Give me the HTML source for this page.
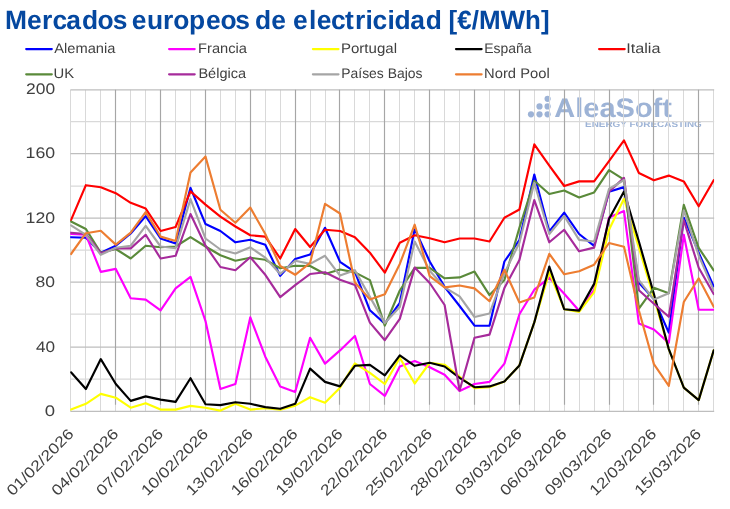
<!DOCTYPE html>
<html><head><meta charset="utf-8"><title>Mercados europeos de electricidad</title>
<style>
html,body{margin:0;padding:0;background:#fff;}
body{width:730px;height:509px;overflow:hidden;position:relative;font-family:"Liberation Sans",sans-serif;}
svg{position:absolute;left:0;top:0;display:block;}
text{font-family:"Liberation Sans",sans-serif;text-rendering:geometricPrecision;}
</style></head><body>
<svg width="730" height="509" viewBox="0 0 730 509">
<rect width="730" height="509" fill="#ffffff"/>
<text y="28.9" font-size="26.4" font-weight="bold" fill="#0548a0" x="5.0 26.9 42.0 52.5 66.3 82.1 97.6 112.7 127.9 131.8 147.0 163.0 173.3 189.0 206.0 220.6 235.2 250.2 255.0 271.2 287.0 293.0 309.0 316.8 331.1 345.0 355.0 365.4 372.4 387.4 394.5 410.3 425.8">Mercados europeos de electricidad</text>
<text x="448.62" y="28.90" font-size="26.4" font-weight="bold" fill="#0548a0" textLength="100.94" lengthAdjust="spacingAndGlyphs">[€/MWh]</text>
<g fill="#9db3d6"><circle cx="531.0" cy="114.3" r="3.1"/><circle cx="539.5" cy="114.3" r="3.1"/><circle cx="547.6" cy="114.3" r="3.1"/><circle cx="539.5" cy="106.4" r="3.1"/><circle cx="547.6" cy="106.4" r="3.1"/><circle cx="547.6" cy="98.8" r="3.1"/><text x="554.25" y="117.40" font-size="27" font-weight="bold" fill="#9db3d6" textLength="117.69" lengthAdjust="spacingAndGlyphs">AleaSoft</text>
<text x="585.06" y="127.40" font-size="8.5" font-weight="bold" fill="#9db3d6" textLength="116.75" lengthAdjust="spacingAndGlyphs">ENERGY FORECASTING</text>
</g>
<g><line x1="70.50" y1="89.75" x2="70.50" y2="411.40" stroke="#d9d9d9" stroke-width="1"/><line x1="85.50" y1="89.75" x2="85.50" y2="411.40" stroke="#d9d9d9" stroke-width="1"/><line x1="100.50" y1="89.75" x2="100.50" y2="411.40" stroke="#d9d9d9" stroke-width="1"/><line x1="115.50" y1="89.75" x2="115.50" y2="411.40" stroke="#d9d9d9" stroke-width="1"/><line x1="130.50" y1="89.75" x2="130.50" y2="411.40" stroke="#d9d9d9" stroke-width="1"/><line x1="145.50" y1="89.75" x2="145.50" y2="411.40" stroke="#d9d9d9" stroke-width="1"/><line x1="160.50" y1="89.75" x2="160.50" y2="411.40" stroke="#d9d9d9" stroke-width="1"/><line x1="175.50" y1="89.75" x2="175.50" y2="411.40" stroke="#d9d9d9" stroke-width="1"/><line x1="190.50" y1="89.75" x2="190.50" y2="411.40" stroke="#d9d9d9" stroke-width="1"/><line x1="205.50" y1="89.75" x2="205.50" y2="411.40" stroke="#d9d9d9" stroke-width="1"/><line x1="220.50" y1="89.75" x2="220.50" y2="411.40" stroke="#d9d9d9" stroke-width="1"/><line x1="235.50" y1="89.75" x2="235.50" y2="411.40" stroke="#d9d9d9" stroke-width="1"/><line x1="250.50" y1="89.75" x2="250.50" y2="411.40" stroke="#d9d9d9" stroke-width="1"/><line x1="265.50" y1="89.75" x2="265.50" y2="411.40" stroke="#d9d9d9" stroke-width="1"/><line x1="280.50" y1="89.75" x2="280.50" y2="411.40" stroke="#d9d9d9" stroke-width="1"/><line x1="295.50" y1="89.75" x2="295.50" y2="411.40" stroke="#d9d9d9" stroke-width="1"/><line x1="310.50" y1="89.75" x2="310.50" y2="411.40" stroke="#d9d9d9" stroke-width="1"/><line x1="325.50" y1="89.75" x2="325.50" y2="411.40" stroke="#d9d9d9" stroke-width="1"/><line x1="339.50" y1="89.75" x2="339.50" y2="411.40" stroke="#d9d9d9" stroke-width="1"/><line x1="354.50" y1="89.75" x2="354.50" y2="411.40" stroke="#d9d9d9" stroke-width="1"/><line x1="369.50" y1="89.75" x2="369.50" y2="411.40" stroke="#d9d9d9" stroke-width="1"/><line x1="384.50" y1="89.75" x2="384.50" y2="411.40" stroke="#d9d9d9" stroke-width="1"/><line x1="399.50" y1="89.75" x2="399.50" y2="411.40" stroke="#d9d9d9" stroke-width="1"/><line x1="414.50" y1="89.75" x2="414.50" y2="411.40" stroke="#d9d9d9" stroke-width="1"/><line x1="429.50" y1="89.75" x2="429.50" y2="411.40" stroke="#d9d9d9" stroke-width="1"/><line x1="444.50" y1="89.75" x2="444.50" y2="411.40" stroke="#d9d9d9" stroke-width="1"/><line x1="459.50" y1="89.75" x2="459.50" y2="411.40" stroke="#d9d9d9" stroke-width="1"/><line x1="474.50" y1="89.75" x2="474.50" y2="411.40" stroke="#d9d9d9" stroke-width="1"/><line x1="489.50" y1="89.75" x2="489.50" y2="411.40" stroke="#d9d9d9" stroke-width="1"/><line x1="504.50" y1="89.75" x2="504.50" y2="411.40" stroke="#d9d9d9" stroke-width="1"/><line x1="519.50" y1="89.75" x2="519.50" y2="411.40" stroke="#d9d9d9" stroke-width="1"/><line x1="534.50" y1="89.75" x2="534.50" y2="411.40" stroke="#d9d9d9" stroke-width="1"/><line x1="549.50" y1="89.75" x2="549.50" y2="411.40" stroke="#d9d9d9" stroke-width="1"/><line x1="564.50" y1="89.75" x2="564.50" y2="411.40" stroke="#d9d9d9" stroke-width="1"/><line x1="579.50" y1="89.75" x2="579.50" y2="411.40" stroke="#d9d9d9" stroke-width="1"/><line x1="594.50" y1="89.75" x2="594.50" y2="411.40" stroke="#d9d9d9" stroke-width="1"/><line x1="609.50" y1="89.75" x2="609.50" y2="411.40" stroke="#d9d9d9" stroke-width="1"/><line x1="623.50" y1="89.75" x2="623.50" y2="411.40" stroke="#d9d9d9" stroke-width="1"/><line x1="638.50" y1="89.75" x2="638.50" y2="411.40" stroke="#d9d9d9" stroke-width="1"/><line x1="653.50" y1="89.75" x2="653.50" y2="411.40" stroke="#d9d9d9" stroke-width="1"/><line x1="668.50" y1="89.75" x2="668.50" y2="411.40" stroke="#d9d9d9" stroke-width="1"/><line x1="683.50" y1="89.75" x2="683.50" y2="411.40" stroke="#d9d9d9" stroke-width="1"/><line x1="698.50" y1="89.75" x2="698.50" y2="411.40" stroke="#d9d9d9" stroke-width="1"/><line x1="713.50" y1="89.75" x2="713.50" y2="411.40" stroke="#d9d9d9" stroke-width="1"/><line x1="70.45" y1="411.40" x2="714.17" y2="411.40" stroke="#bebebe" stroke-width="1.25"/><line x1="70.45" y1="379.20" x2="714.17" y2="379.20" stroke="#d9d9d9" stroke-width="1.25"/><line x1="70.45" y1="347.00" x2="714.17" y2="347.00" stroke="#bebebe" stroke-width="1.25"/><line x1="70.45" y1="314.00" x2="714.17" y2="314.00" stroke="#d9d9d9" stroke-width="1.25"/><line x1="70.45" y1="282.00" x2="714.17" y2="282.00" stroke="#bebebe" stroke-width="1.25"/><line x1="70.45" y1="250.00" x2="714.17" y2="250.00" stroke="#d9d9d9" stroke-width="1.25"/><line x1="70.45" y1="218.00" x2="714.17" y2="218.00" stroke="#bebebe" stroke-width="1.25"/><line x1="70.45" y1="186.00" x2="714.17" y2="186.00" stroke="#d9d9d9" stroke-width="1.25"/><line x1="70.45" y1="153.50" x2="714.17" y2="153.50" stroke="#bebebe" stroke-width="1.25"/><line x1="70.45" y1="121.50" x2="714.17" y2="121.50" stroke="#d9d9d9" stroke-width="1.25"/><line x1="70.45" y1="89.75" x2="714.17" y2="89.75" stroke="#bebebe" stroke-width="1.25"/><line x1="115.50" y1="89.75" x2="115.50" y2="404.70" stroke="#a6a6a6" stroke-width="1.15"/><line x1="160.50" y1="89.75" x2="160.50" y2="404.70" stroke="#a6a6a6" stroke-width="1.15"/><line x1="205.50" y1="89.75" x2="205.50" y2="404.70" stroke="#a6a6a6" stroke-width="1.15"/><line x1="250.50" y1="89.75" x2="250.50" y2="404.70" stroke="#a6a6a6" stroke-width="1.15"/><line x1="295.50" y1="89.75" x2="295.50" y2="404.70" stroke="#a6a6a6" stroke-width="1.15"/><line x1="339.50" y1="89.75" x2="339.50" y2="404.70" stroke="#a6a6a6" stroke-width="1.15"/><line x1="384.50" y1="89.75" x2="384.50" y2="404.70" stroke="#a6a6a6" stroke-width="1.15"/><line x1="429.50" y1="89.75" x2="429.50" y2="404.70" stroke="#a6a6a6" stroke-width="1.15"/><line x1="474.50" y1="89.75" x2="474.50" y2="404.70" stroke="#a6a6a6" stroke-width="1.15"/><line x1="519.50" y1="89.75" x2="519.50" y2="404.70" stroke="#a6a6a6" stroke-width="1.15"/><line x1="564.50" y1="89.75" x2="564.50" y2="404.70" stroke="#a6a6a6" stroke-width="1.15"/><line x1="609.50" y1="89.75" x2="609.50" y2="404.70" stroke="#a6a6a6" stroke-width="1.15"/><line x1="653.50" y1="89.75" x2="653.50" y2="404.70" stroke="#a6a6a6" stroke-width="1.15"/><line x1="698.50" y1="89.75" x2="698.50" y2="404.70" stroke="#a6a6a6" stroke-width="1.15"/></g>
<defs><clipPath id="plotclip"><rect x="70.2" y="80" width="643.9" height="340"/></clipPath></defs>
<g clip-path="url(#plotclip)">
<polyline fill="none" stroke="#0000ff" stroke-width="2.15" stroke-linejoin="round" stroke-linecap="round" points="71.0,237.2 85.9,237.7 100.8,252.7 115.8,245.7 130.7,233.5 145.7,216.1 160.6,238.5 175.6,243.6 190.5,187.9 205.5,224.1 220.4,231.0 235.4,242.3 250.3,239.8 265.3,244.7 280.2,275.9 295.2,259.0 310.1,254.5 325.0,227.8 340.0,261.8 354.9,271.8 369.9,310.3 384.8,323.6 399.8,302.8 414.7,229.0 429.7,261.5 444.6,286.8 459.6,306.0 474.5,325.7 489.5,325.7 504.4,261.5 519.4,240.2 534.3,174.6 549.3,231.4 564.2,212.7 579.1,234.0 594.1,245.8 609.0,191.8 624.0,187.1 638.9,282.8 653.9,299.0 668.8,332.6 683.8,217.7 698.7,252.7 713.7,286.5"/>
<polyline fill="none" stroke="#ff00ff" stroke-width="2.15" stroke-linejoin="round" stroke-linecap="round" points="71.0,234.0 85.9,234.8 100.8,271.9 115.8,268.9 130.7,298.3 145.7,299.6 160.6,310.3 175.6,288.4 190.5,276.9 205.5,321.1 220.4,389.0 235.4,384.0 250.3,317.3 265.3,356.7 280.2,386.4 295.2,391.9 310.1,337.8 325.0,363.6 340.0,350.4 354.9,335.9 369.9,384.0 384.8,395.9 399.8,366.6 414.7,361.0 429.7,367.3 444.6,374.7 459.6,391.0 474.5,384.0 489.5,381.9 504.4,363.6 519.4,314.3 534.3,289.7 549.3,277.8 564.2,293.8 579.1,310.8 594.1,290.0 609.0,217.5 624.0,211.1 638.9,323.4 653.9,329.5 668.8,342.9 683.8,234.8 698.7,309.7 713.7,309.7"/>
<polyline fill="none" stroke="#ffff00" stroke-width="2.15" stroke-linejoin="round" stroke-linecap="round" points="71.0,409.6 85.9,403.8 100.8,393.9 115.8,397.7 130.7,407.7 145.7,403.2 160.6,409.6 175.6,409.6 190.5,405.9 205.5,407.7 220.4,410.6 235.4,403.8 250.3,409.6 265.3,408.3 280.2,409.6 295.2,405.6 310.1,397.2 325.0,402.7 340.0,387.7 354.9,363.3 369.9,372.8 384.8,384.0 399.8,357.8 414.7,383.5 429.7,362.8 444.6,364.7 459.6,376.5 474.5,388.2 489.5,387.2 504.4,381.5 519.4,365.4 534.3,322.4 549.3,272.4 564.2,309.2 579.1,311.9 594.1,292.4 609.0,229.8 624.0,198.8 638.9,247.8 653.9,297.7 668.8,349.1 683.8,387.7 698.7,400.1 713.7,350.4"/>
<polyline fill="none" stroke="#000000" stroke-width="2.15" stroke-linejoin="round" stroke-linecap="round" points="71.0,372.3 85.9,389.0 100.8,359.1 115.8,384.0 130.7,400.9 145.7,396.4 160.6,399.6 175.6,401.9 190.5,378.2 205.5,404.3 220.4,405.1 235.4,402.2 250.3,403.8 265.3,407.1 280.2,408.8 295.2,403.8 310.1,368.6 325.0,381.9 340.0,386.4 354.9,365.8 369.9,364.9 384.8,375.3 399.8,355.4 414.7,365.8 429.7,362.8 444.6,366.5 459.6,377.8 474.5,387.2 489.5,386.4 504.4,381.5 519.4,365.4 534.3,322.4 549.3,266.6 564.2,309.2 579.1,310.6 594.1,283.9 609.0,219.1 624.0,191.6 638.9,241.5 653.9,294.0 668.8,349.1 683.8,387.7 698.7,400.1 713.7,350.4"/>
<polyline fill="none" stroke="#ff0000" stroke-width="2.15" stroke-linejoin="round" stroke-linecap="round" points="71.0,220.2 85.9,185.2 100.8,187.3 115.8,193.2 130.7,202.8 145.7,208.6 160.6,231.0 175.6,227.0 190.5,191.4 205.5,204.6 220.4,216.6 235.4,226.5 250.3,235.3 265.3,236.6 280.2,258.5 295.2,229.0 310.1,247.0 325.0,229.7 340.0,231.0 354.9,237.2 369.9,252.7 384.8,272.7 399.8,242.8 414.7,235.3 429.7,238.3 444.6,242.3 459.6,238.5 474.5,238.5 489.5,241.5 504.4,217.7 519.4,209.5 534.3,144.4 549.3,165.7 564.2,186.0 579.1,181.4 594.1,181.4 609.0,161.1 624.0,140.4 638.9,173.0 653.9,180.2 668.8,175.6 683.8,181.4 698.7,206.3 713.7,180.2"/>
<polyline fill="none" stroke="#5a8a3a" stroke-width="2.15" stroke-linejoin="round" stroke-linecap="round" points="71.0,221.5 85.9,229.0 100.8,252.7 115.8,249.0 130.7,258.5 145.7,245.7 160.6,247.3 175.6,246.5 190.5,237.2 205.5,246.5 220.4,255.3 235.4,260.7 250.3,257.7 265.3,259.8 280.2,268.2 295.2,265.7 310.1,266.0 325.0,274.0 340.0,269.5 354.9,272.4 369.9,280.1 384.8,325.6 399.8,290.5 414.7,267.8 429.7,267.8 444.6,278.3 459.6,277.4 474.5,271.6 489.5,295.1 504.4,279.9 519.4,227.8 534.3,180.8 549.3,194.0 564.2,190.5 579.1,197.4 594.1,192.4 609.0,170.1 624.0,179.7 638.9,308.7 653.9,287.8 668.8,293.2 683.8,204.9 698.7,247.8 713.7,270.3"/>
<polyline fill="none" stroke="#a62b9b" stroke-width="2.15" stroke-linejoin="round" stroke-linecap="round" points="71.0,232.7 85.9,234.0 100.8,253.2 115.8,248.2 130.7,248.4 145.7,234.8 160.6,258.5 175.6,255.8 190.5,214.0 205.5,245.7 220.4,267.0 235.4,270.2 250.3,257.2 265.3,274.8 280.2,297.2 295.2,285.2 310.1,274.0 325.0,272.2 340.0,279.8 354.9,284.9 369.9,322.6 384.8,340.2 399.8,318.9 414.7,267.6 429.7,283.0 444.6,305.0 459.6,390.5 474.5,337.8 489.5,334.6 504.4,288.1 519.4,259.9 534.3,200.1 549.3,242.3 564.2,229.8 579.1,251.3 594.1,247.6 609.0,191.6 624.0,177.9 638.9,290.2 653.9,303.8 668.8,316.8 683.8,220.2 698.7,267.8 713.7,294.0"/>
<polyline fill="none" stroke="#a5a5a5" stroke-width="2.15" stroke-linejoin="round" stroke-linecap="round" points="71.0,225.4 85.9,234.8 100.8,254.8 115.8,247.8 130.7,245.7 145.7,225.8 160.6,246.5 175.6,248.2 190.5,199.1 205.5,238.5 220.4,249.5 235.4,253.5 250.3,247.3 265.3,257.7 280.2,274.0 295.2,260.7 310.1,263.9 325.0,255.8 340.0,275.6 354.9,270.2 369.9,296.9 384.8,323.1 399.8,307.0 414.7,241.5 429.7,270.8 444.6,287.4 459.6,296.4 474.5,317.0 489.5,313.5 504.4,273.2 519.4,242.8 534.3,182.8 549.3,234.0 564.2,215.9 579.1,239.9 594.1,241.5 609.0,189.0 624.0,180.0 638.9,280.2 653.9,299.6 668.8,293.2 683.8,210.3 698.7,255.3 713.7,290.3"/>
<polyline fill="none" stroke="#ed7d31" stroke-width="2.15" stroke-linejoin="round" stroke-linecap="round" points="71.0,254.0 85.9,233.2 100.8,230.8 115.8,244.6 130.7,232.7 145.7,212.1 160.6,236.6 175.6,241.0 190.5,172.5 205.5,156.6 220.4,209.8 235.4,222.8 250.3,207.6 265.3,234.0 280.2,266.0 295.2,274.8 310.1,262.8 325.0,203.9 340.0,213.5 354.9,282.5 369.9,299.4 384.8,294.2 399.8,263.9 414.7,224.7 429.7,276.1 444.6,287.4 459.6,285.5 474.5,288.4 489.5,301.2 504.4,269.8 519.4,302.5 534.3,297.5 549.3,253.8 564.2,274.3 579.1,271.3 594.1,264.7 609.0,243.0 624.0,246.8 638.9,310.5 653.9,364.1 668.8,385.8 683.8,302.0 698.7,278.3 713.7,306.8"/>
</g>
<line x1="26.2" y1="49.1" x2="51.8" y2="49.1" stroke="#0000ff" stroke-width="2.2" stroke-linecap="round"/><text x="54.25" y="52.80" font-size="14" fill="#404040" textLength="61.12" lengthAdjust="spacingAndGlyphs">Alemania</text>
<line x1="169.1" y1="49.1" x2="194.7" y2="49.1" stroke="#ff00ff" stroke-width="2.2" stroke-linecap="round"/><text x="198.10" y="52.80" font-size="14" fill="#404040" textLength="48.89" lengthAdjust="spacingAndGlyphs">Francia</text>
<line x1="312.9" y1="49.1" x2="338.5" y2="49.1" stroke="#ffff00" stroke-width="2.2" stroke-linecap="round"/><text x="340.96" y="52.80" font-size="14" fill="#404040" textLength="56.05" lengthAdjust="spacingAndGlyphs">Portugal</text>
<line x1="456.0" y1="49.1" x2="481.6" y2="49.1" stroke="#000000" stroke-width="2.2" stroke-linecap="round"/><text x="484.16" y="52.80" font-size="14" fill="#404040" textLength="47.23" lengthAdjust="spacingAndGlyphs">España</text>
<line x1="599.1" y1="49.1" x2="624.7" y2="49.1" stroke="#ff0000" stroke-width="2.2" stroke-linecap="round"/><text x="626.30" y="52.80" font-size="14" fill="#404040" textLength="34.17" lengthAdjust="spacingAndGlyphs">Italia</text>
<line x1="26.2" y1="74.3" x2="51.8" y2="74.3" stroke="#5a8a3a" stroke-width="2.2" stroke-linecap="round"/><text x="53.44" y="77.50" font-size="14" fill="#404040" textLength="20.57" lengthAdjust="spacingAndGlyphs">UK</text>
<line x1="169.1" y1="74.3" x2="194.7" y2="74.3" stroke="#a62b9b" stroke-width="2.2" stroke-linecap="round"/><text x="198.41" y="77.50" font-size="14" fill="#404040" textLength="47.66" lengthAdjust="spacingAndGlyphs">Bélgica</text>
<line x1="312.9" y1="74.3" x2="338.5" y2="74.3" stroke="#a5a5a5" stroke-width="2.2" stroke-linecap="round"/><text x="341.26" y="77.50" font-size="14" fill="#404040" textLength="81.25" lengthAdjust="spacingAndGlyphs">Países Bajos</text>
<line x1="456.0" y1="74.3" x2="481.6" y2="74.3" stroke="#ed7d31" stroke-width="2.2" stroke-linecap="round"/><text x="484.09" y="77.50" font-size="14" fill="#404040" textLength="65.62" lengthAdjust="spacingAndGlyphs">Nord Pool</text>
<text x="44.80" y="416.00" font-size="15.3" fill="#404040" textLength="10.34" lengthAdjust="spacingAndGlyphs">0</text>
<text x="35.97" y="352.00" font-size="15.3" fill="#404040" textLength="19.12" lengthAdjust="spacingAndGlyphs">40</text>
<text x="35.62" y="287.00" font-size="15.3" fill="#404040" textLength="19.49" lengthAdjust="spacingAndGlyphs">80</text>
<text x="25.57" y="223.00" font-size="15.3" fill="#404040" textLength="29.56" lengthAdjust="spacingAndGlyphs">120</text>
<text x="25.57" y="158.00" font-size="15.3" fill="#404040" textLength="29.56" lengthAdjust="spacingAndGlyphs">160</text>
<text x="26.05" y="94.00" font-size="15.3" fill="#404040" textLength="29.07" lengthAdjust="spacingAndGlyphs">200</text>
<text transform="translate(74.5,434.8) rotate(-45)" font-size="15.0" fill="#404040" text-anchor="end" textLength="87.4" lengthAdjust="spacingAndGlyphs">01/02/2026</text>
<text transform="translate(119.3,434.8) rotate(-45)" font-size="15.0" fill="#404040" text-anchor="end" textLength="87.4" lengthAdjust="spacingAndGlyphs">04/02/2026</text>
<text transform="translate(164.1,434.8) rotate(-45)" font-size="15.0" fill="#404040" text-anchor="end" textLength="87.4" lengthAdjust="spacingAndGlyphs">07/02/2026</text>
<text transform="translate(209.0,434.8) rotate(-45)" font-size="15.0" fill="#404040" text-anchor="end" textLength="87.4" lengthAdjust="spacingAndGlyphs">10/02/2026</text>
<text transform="translate(253.8,434.8) rotate(-45)" font-size="15.0" fill="#404040" text-anchor="end" textLength="87.4" lengthAdjust="spacingAndGlyphs">13/02/2026</text>
<text transform="translate(298.7,434.8) rotate(-45)" font-size="15.0" fill="#404040" text-anchor="end" textLength="87.4" lengthAdjust="spacingAndGlyphs">16/02/2026</text>
<text transform="translate(343.5,434.8) rotate(-45)" font-size="15.0" fill="#404040" text-anchor="end" textLength="87.4" lengthAdjust="spacingAndGlyphs">19/02/2026</text>
<text transform="translate(388.3,434.8) rotate(-45)" font-size="15.0" fill="#404040" text-anchor="end" textLength="87.4" lengthAdjust="spacingAndGlyphs">22/02/2026</text>
<text transform="translate(433.2,434.8) rotate(-45)" font-size="15.0" fill="#404040" text-anchor="end" textLength="87.4" lengthAdjust="spacingAndGlyphs">25/02/2026</text>
<text transform="translate(478.0,434.8) rotate(-45)" font-size="15.0" fill="#404040" text-anchor="end" textLength="87.4" lengthAdjust="spacingAndGlyphs">28/02/2026</text>
<text transform="translate(522.9,434.8) rotate(-45)" font-size="15.0" fill="#404040" text-anchor="end" textLength="87.4" lengthAdjust="spacingAndGlyphs">03/03/2026</text>
<text transform="translate(567.7,434.8) rotate(-45)" font-size="15.0" fill="#404040" text-anchor="end" textLength="87.4" lengthAdjust="spacingAndGlyphs">06/03/2026</text>
<text transform="translate(612.5,434.8) rotate(-45)" font-size="15.0" fill="#404040" text-anchor="end" textLength="87.4" lengthAdjust="spacingAndGlyphs">09/03/2026</text>
<text transform="translate(657.4,434.8) rotate(-45)" font-size="15.0" fill="#404040" text-anchor="end" textLength="87.4" lengthAdjust="spacingAndGlyphs">12/03/2026</text>
<text transform="translate(702.2,434.8) rotate(-45)" font-size="15.0" fill="#404040" text-anchor="end" textLength="87.4" lengthAdjust="spacingAndGlyphs">15/03/2026</text>
</svg>
</body></html>
